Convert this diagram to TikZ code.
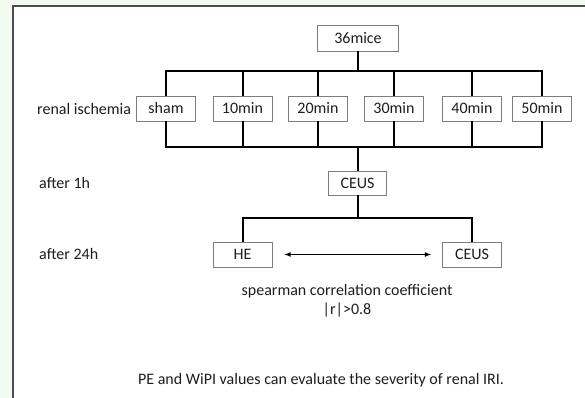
\documentclass[tikz,border=0pt]{standalone}
\usepackage{fontspec}
\setmainfont{Carlito}
\usepackage{xcolor}
\usepackage{tikz}
\usetikzlibrary{shapes,arrows,positioning}

\definecolor{pagegreen}{RGB}{243,251,240}
\definecolor{boxgray}{RGB}{125,125,125}
\definecolor{inkgray}{RGB}{30,30,30}
\newcommand{\flowfont}{\fontsize{16}{18.5}\selectfont}

\tikzset{
    grpbox/.style={
        draw=boxgray,
        line width=0.9pt,
        fill=white,
        minimum width=59pt,
        minimum height=25pt,
        inner sep=0pt,
        text=inkgray,
        font=\flowfont
    },
    steplabel/.style={
        anchor=west,
        inner sep=0pt,
        text=inkgray,
        font=\flowfont
    },
    link/.style={
        line width=2pt,
        black
    },
    relation/.style={
        line width=1.1pt,
        black,
        >=latex,
        <->,
        shorten <=12pt,
        shorten >=11pt
    }
}

\begin{document}
\begin{tikzpicture}[x=1pt,y=-1pt]
                \clip (0,0) rectangle (585,398);
                \fill[pagegreen] (0,0) rectangle (585,398);
                \draw[
                    fill=white,
                    draw=black!70,
                    line width=1.2pt
                ] (13,6) rectangle (600,420);

                \node[grpbox, minimum width=81pt, minimum height=26pt] (mice) at (358,38) {36mice};

                \foreach \name/\x/\txt in {sham/166/sham\hspace{10pt}, m10/242.5/10min, m20/318/20min,
                                           m30/394/30min, m40/472/40min, m50/542/50min}
                    \node[grpbox] (\name) at (\x,108.5) {\txt};

                \node[grpbox, minimum width=58pt, minimum height=24pt] (ceusA) at (357.5,183) {CEUS};
                \node[grpbox] (he) at (242.5,254.5) {HE};
                \node[grpbox] (ceusB) at (472,254.5) {CEUS};

                \node[steplabel] (ischemia) at (37,109) {renal ischemia};
                \node[steplabel] (after1) at (39,183) {after 1h};
                \node[steplabel] (after24) at (39,254) {after 24h};

                \node[text=inkgray, font=\flowfont, align=center, inner sep=0pt] (spearman) at (347,301)
                    {spearman correlation coefficient\\|r|>0.8};
                \node[text=inkgray, font=\flowfont, inner sep=0pt] (summary) at (321,380)
                    {PE and WiPI values can evaluate the severity of renal IRI.};

                \coordinate (topbus) at (358,71);
                \coordinate (lowbus) at (358,147);
                \coordinate (splitbus) at (358,218);

                \draw[link] (mice) -- (mice |- topbus);
                \draw[link] (sham) |- (m50 |- topbus) -- (m50);
                \draw[link] (sham) |- (m50 |- lowbus) -- (m50);
                \foreach \name in {m10,m20,m30,m40} {
                    \draw[link] (\name |- topbus) -- (\name);
                    \draw[link] (\name) -- (\name |- lowbus);
                }

                \draw[link] (ceusA |- lowbus) -- (ceusA);
                \draw[link] (ceusA) -- (ceusA |- splitbus);
                \draw[link] (he) |- (ceusB |- splitbus) -- (ceusB);

                \draw[relation] (he) -- (ceusB);
\end{tikzpicture}
\end{document}
